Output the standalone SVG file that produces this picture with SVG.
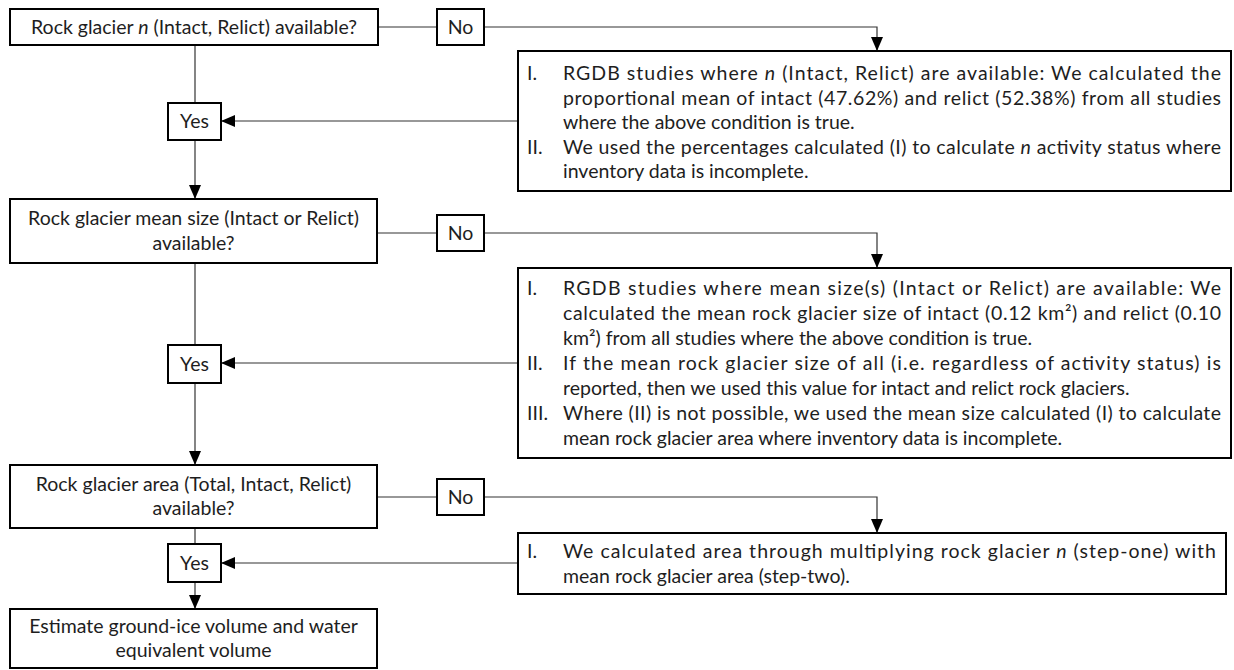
<svg xmlns="http://www.w3.org/2000/svg" width="1234" height="670" viewBox="0 0 1234 670">
<defs>
<marker id="arr" markerUnits="userSpaceOnUse" markerWidth="14" markerHeight="12" refX="14" refY="6" orient="auto">
<path d="M0,0 L14,6 L0,12 z" fill="#000"/>
</marker>
<style>
.box{fill:#fff;stroke:#000;stroke-width:2}
.t{font-family:Lato,"Liberation Sans",sans-serif;font-size:19.5px;fill:#1e1e1e}
.c{text-anchor:middle}
.ln{fill:none;stroke:#333;stroke-width:1.2}
.a{marker-end:url(#arr)}
</style>
</defs>
<rect width="1234" height="670" fill="#fff"/>
<g id="connectors">
<path class="ln" d="M378,27 H437"/>
<path class="ln a" d="M484,27 H877 V51"/>
<path class="ln" d="M195,45 V103"/>
<path class="ln a" d="M518,121 H221"/>
<path class="ln a" d="M195,140 V199"/>
<path class="ln" d="M377,233 H437"/>
<path class="ln a" d="M484,233 H877 V268"/>
<path class="ln" d="M195,263 V345"/>
<path class="ln a" d="M518,363 H221"/>
<path class="ln a" d="M195,383 V465"/>
<path class="ln" d="M377,497 H437"/>
<path class="ln a" d="M484,497 H877 V533"/>
<path class="ln" d="M195,528 V544"/>
<path class="ln a" d="M518,563 H221"/>
<path class="ln a" d="M195,582 V609"/>
</g>
<g id="q1">
<rect class="box" x="10" y="9" width="368" height="36"/>
<text class="t c" x="194" y="33.5">Rock glacier <tspan font-style="italic">n</tspan> (Intact, Relict) available?</text>
</g>
<g id="no1">
<rect class="box" x="437" y="9" width="47" height="36"/>
<text class="t c" x="460.5" y="33.5">No</text>
</g>
<g id="yes1">
<rect class="box" x="168" y="103" width="53" height="37"/>
<text class="t c" x="194.5" y="128">Yes</text>
</g>
<g id="stepA">
<rect class="box" x="518" y="51" width="713" height="140"/>
<text class="t" x="527" y="80">I.</text>
<text class="t" x="563" y="80" textLength="658" lengthAdjust="spacing">RGDB studies where <tspan font-style="italic">n</tspan> (Intact, Relict) are available: We calculated the</text>
<text class="t" x="563" y="104.5" textLength="658" lengthAdjust="spacing">proportional mean of intact (47.62%) and relict (52.38%) from all studies</text>
<text class="t" x="563" y="129">where the above condition is true.</text>
<text class="t" x="527" y="153.5">II.</text>
<text class="t" x="563" y="153.5" textLength="658" lengthAdjust="spacing">We used the percentages calculated (I) to calculate <tspan font-style="italic">n</tspan> activity status where</text>
<text class="t" x="563" y="178">inventory data is incomplete.</text>
</g>
<g id="q2">
<rect class="box" x="10" y="199" width="367" height="64"/>
<text class="t c" x="193.5" y="225">Rock glacier mean size (Intact or Relict)</text>
<text class="t c" x="193.5" y="249.5">available?</text>
</g>
<g id="no2">
<rect class="box" x="437" y="215" width="47" height="36"/>
<text class="t c" x="460.5" y="239.5">No</text>
</g>
<g id="yes2">
<rect class="box" x="168" y="345" width="53" height="38"/>
<text class="t c" x="194.5" y="370.5">Yes</text>
</g>
<g id="stepB">
<rect class="box" x="518" y="268" width="713" height="190"/>
<text class="t" x="527" y="294.5">I.</text>
<text class="t" x="563" y="294.5" textLength="658" lengthAdjust="spacing">RGDB studies where mean size(s) (Intact or Relict) are available: We</text>
<text class="t" x="563" y="319.5" textLength="658" lengthAdjust="spacing">calculated the mean rock glacier size of intact (0.12 km²) and relict (0.10</text>
<text class="t" x="563" y="344.5">km²) from all studies where the above condition is true.</text>
<text class="t" x="527" y="369.5">II.</text>
<text class="t" x="563" y="369.5" textLength="658" lengthAdjust="spacing">If the mean rock glacier size of all (i.e. regardless of activity status) is</text>
<text class="t" x="563" y="394.5">reported, then we used this value for intact and relict rock glaciers.</text>
<text class="t" x="527" y="419.5">III.</text>
<text class="t" x="563" y="419.5" textLength="658" lengthAdjust="spacing">Where (II) is not possible, we used the mean size calculated (I) to calculate</text>
<text class="t" x="563" y="444.5">mean rock glacier area where inventory data is incomplete.</text>
</g>
<g id="q3">
<rect class="box" x="10" y="465" width="367" height="63"/>
<text class="t c" x="193.5" y="490.75">Rock glacier area (Total, Intact, Relict)</text>
<text class="t c" x="193.5" y="515.25">available?</text>
</g>
<g id="no3">
<rect class="box" x="437" y="479" width="47" height="36"/>
<text class="t c" x="460.5" y="503.5">No</text>
</g>
<g id="yes3">
<rect class="box" x="168" y="544" width="53" height="38"/>
<text class="t c" x="194.5" y="569.5">Yes</text>
</g>
<g id="stepC">
<rect class="box" x="518" y="533" width="708" height="61"/>
<text class="t" x="527" y="557.5">I.</text>
<text class="t" x="563" y="557.5" textLength="653" lengthAdjust="spacing">We calculated area through multiplying rock glacier <tspan font-style="italic">n</tspan> (step-one) with</text>
<text class="t" x="563" y="582.5">mean rock glacier area (step-two).</text>
</g>
<g id="end">
<rect class="box" x="10" y="609" width="367" height="59"/>
<text class="t c" x="193.5" y="632.75">Estimate ground-ice volume and water</text>
<text class="t c" x="193.5" y="657.25">equivalent volume</text>
</g>
</svg>
